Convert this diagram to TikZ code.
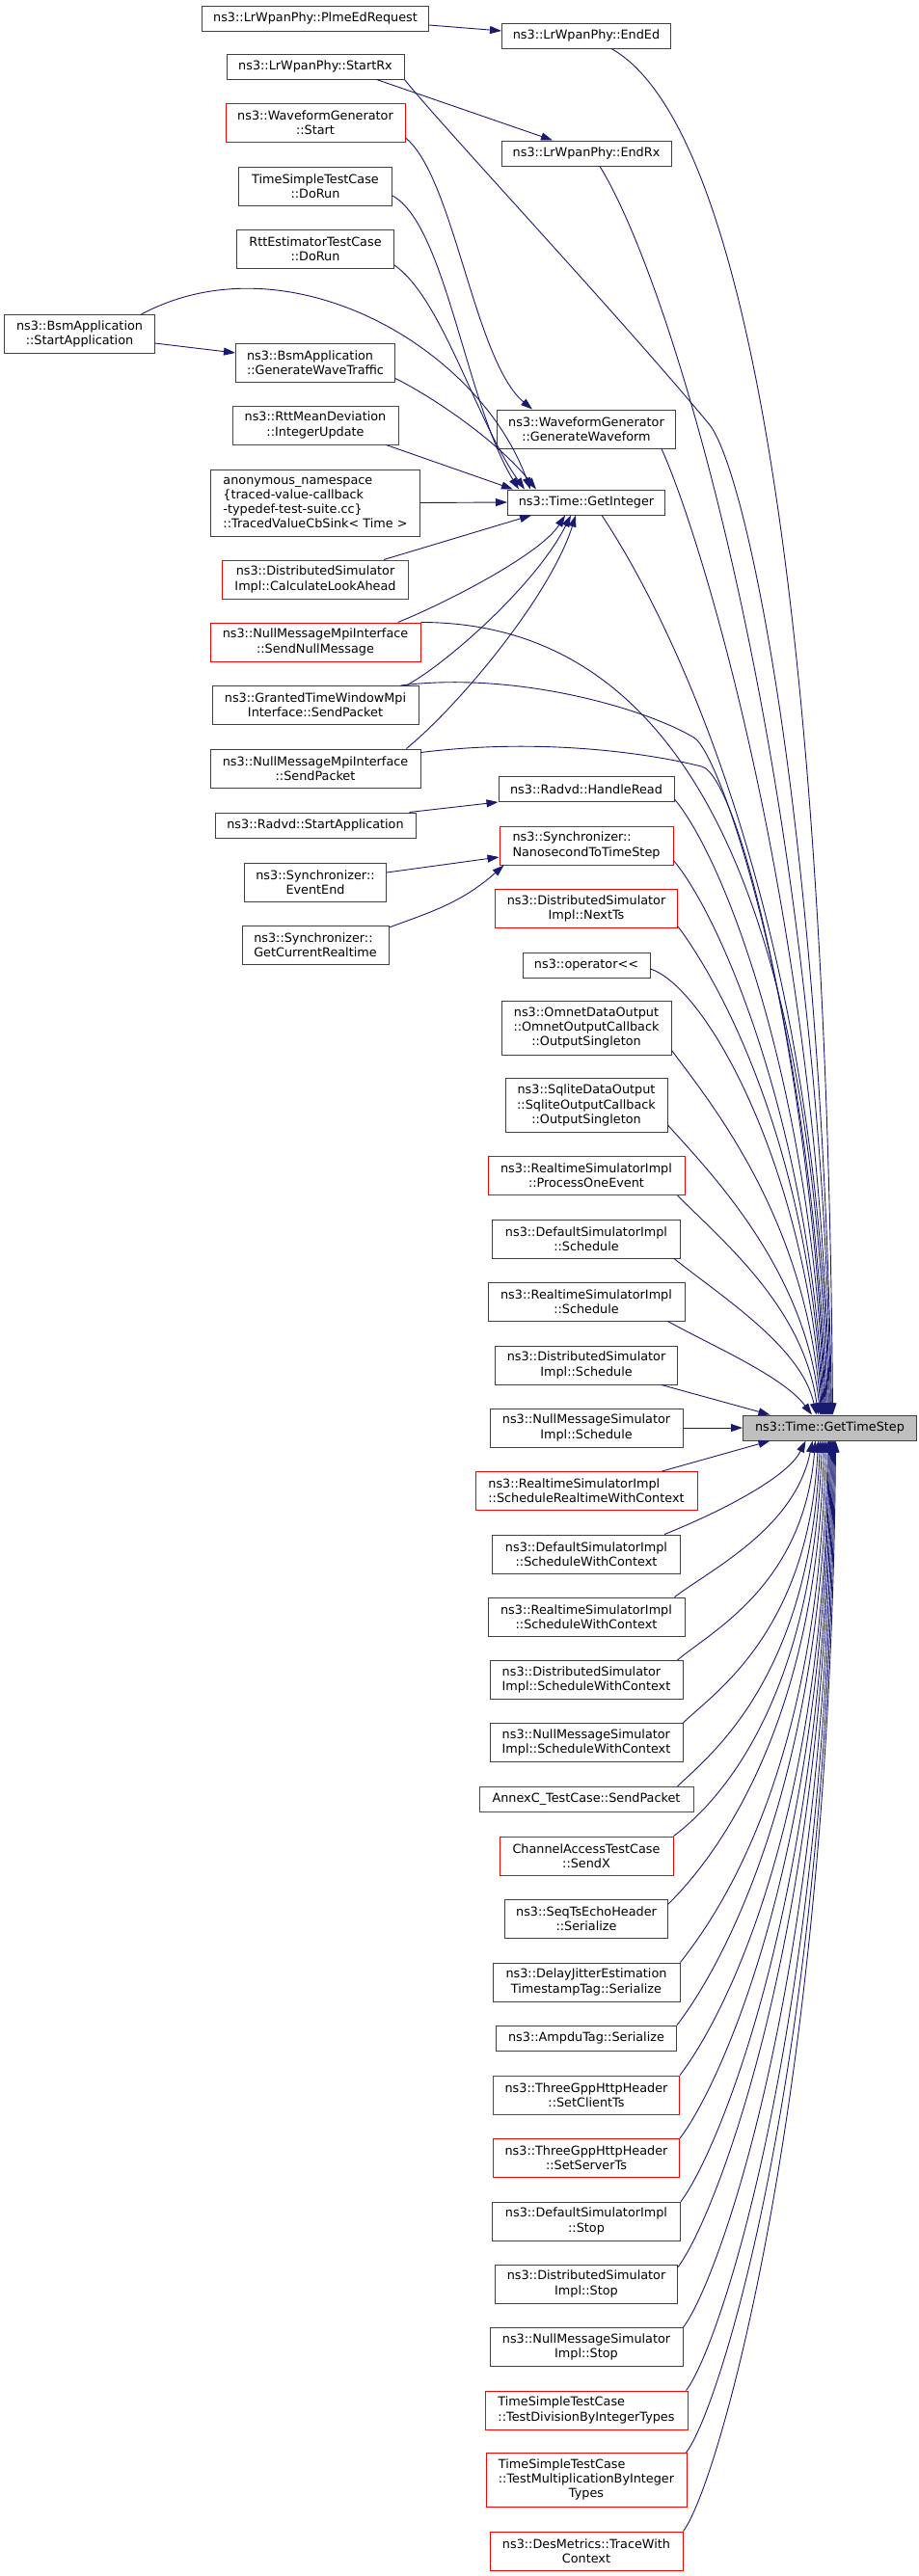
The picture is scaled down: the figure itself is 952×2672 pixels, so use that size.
\documentclass[tikz,border=0pt]{standalone}
\usepackage{fontspec}
\setmainfont{DejaVu Sans}
\usepackage{tikz}
\usetikzlibrary{arrows.meta}

\definecolor{edgeblue}{HTML}{191970}
\definecolor{boxgray}{HTML}{404040}
\definecolor{rootfill}{HTML}{BFBFBF}
\newcommand\fnfont{\fontsize{12.8bp}{15.3bp}\selectfont}

\tikzset{
	fn/.style={draw=boxgray, line width=1bp, fill=white, inner sep=0pt, align=center, font=\fnfont, minimum height=26bp},
	cut/.style={fn, draw=red},
	root/.style={fn, fill=rootfill},
	wd/.style={minimum width=#1bp},
	dbl/.style={minimum height=40bp},
	tri/.style={minimum height=56bp},
	quad/.style={minimum height=69bp},
	call/.style={draw=edgeblue, line width=0.9bp, ->},
}

\begin{document}
\begin{tikzpicture}[x=1bp, y=-1bp, >={Triangle[length=12bp,width=8bp]}]
	\def\lx{327}
	\def\cx{608}
	\useasboundingbox (0,0) rectangle (952,2672);

	% callers on the left
	\node[fn, wd=235] (plme) at (\lx,19) {ns3::LrWpanPhy::PlmeEdRequest};
	\node[fn, wd=184] (startrx) at (\lx,69) {ns3::LrWpanPhy::StartRx};
	\node[cut, dbl, wd=186] (wgstart) at (\lx,127.5) {ns3::WaveformGenerator\\::Start};
	\node[fn, dbl, wd=159] (tsdorun) at (\lx,193) {TimeSimpleTestCase\\::DoRun};
	\node[fn, dbl, wd=163] (rttdorun) at (\lx,258) {RttEstimatorTestCase\\::DoRun};
	\node[fn, dbl, wd=155] (bsmstart) at (82.5,346.5) {ns3::BsmApplication\\::StartApplication};
	\node[fn, dbl, wd=165, align=left] (bsmgen) at (\lx,376) {ns3::BsmApplication\\::GenerateWaveTraffic};
	\node[cut, dbl, wd=172] (rttmean) at (\lx,441) {ns3::RttMeanDeviation\\::IntegerUpdate};
	\node[fn, quad, wd=217, align=left] (anon) at (\lx,521.5) {anonymous\_namespace\\\{traced-value-callback\\-typedef-test-suite.cc\}\\::TracedValueCbSink< Time >};
	\node[cut, dbl, wd=193] (calcla) at (\lx,601) {ns3::DistributedSimulator\\Impl::CalculateLookAhead};
	\node[cut, dbl, wd=218] (sendnull) at (\lx,666) {ns3::NullMessageMpiInterface\\::SendNullMessage};
	\node[fn, dbl, wd=214] (grantsend) at (\lx,731.5) {ns3::GrantedTimeWindowMpi\\Interface::SendPacket};
	\node[fn, dbl, wd=218] (nullsend) at (\lx,797) {ns3::NullMessageMpiInterface\\::SendPacket};
	\node[fn, wd=208] (radvdstart) at (\lx,856) {ns3::Radvd::StartApplication};
	\node[fn, dbl, wd=147] (eventend) at (\lx,915) {ns3::Synchronizer::\\EventEnd};
	\node[fn, dbl, wd=152, align=left] (getrt) at (\lx,980) {ns3::Synchronizer::\\GetCurrentRealtime};

	% direct callers of GetTimeStep
	\node[fn, wd=175] (ended) at (\cx,37) {ns3::LrWpanPhy::EndEd};
	\node[fn, wd=176] (endrx) at (\cx,159) {ns3::LrWpanPhy::EndRx};
	\node[fn, dbl, wd=185] (wggen) at (\cx,445) {ns3::WaveformGenerator\\::GenerateWaveform};
	\node[fn, wd=163] (getint) at (\cx,521) {ns3::Time::GetInteger};
	\node[fn, wd=182] (handleread) at (\cx,818.5) {ns3::Radvd::HandleRead};
	\node[cut, dbl, wd=180, align=left] (nano) at (\cx,877) {ns3::Synchronizer::\\NanosecondToTimeStep};
	\node[cut, dbl, wd=189] (nextts) at (\cx,942.5) {ns3::DistributedSimulator\\Impl::NextTs};
	\node[fn, wd=132] (oplt) at (\cx,1001) {ns3::operator<\kern0pt<};
	\node[fn, tri, wd=176] (omnet) at (\cx,1066) {ns3::OmnetDataOutput\\::OmnetOutputCallback\\::OutputSingleton};
	\node[fn, tri, wd=168] (sqlite) at (\cx,1146.5) {ns3::SqliteDataOutput\\::SqliteOutputCallback\\::OutputSingleton};
	\node[cut, dbl, wd=204] (procone) at (\cx,1219.5) {ns3::RealtimeSimulatorImpl\\::ProcessOneEvent};
	\node[fn, dbl, wd=195] (defsched) at (\cx,1285) {ns3::DefaultSimulatorImpl\\::Schedule};
	\node[fn, dbl, wd=204] (rtsched) at (\cx,1350) {ns3::RealtimeSimulatorImpl\\::Schedule};
	\node[fn, dbl, wd=189] (dssched) at (\cx,1416) {ns3::DistributedSimulator\\Impl::Schedule};
	\node[fn, dbl, wd=200] (nmsched) at (\cx,1481) {ns3::NullMessageSimulator\\Impl::Schedule};
	\node[root, wd=180] (gts) at (860.5,1481) {ns3::Time::GetTimeStep};
	\node[cut, dbl, wd=230, align=left] (rtschedrt) at (\cx,1546.5) {ns3::RealtimeSimulatorImpl\\::ScheduleRealtimeWithContext};
	\node[fn, dbl, wd=195] (defswc) at (\cx,1612) {ns3::DefaultSimulatorImpl\\::ScheduleWithContext};
	\node[fn, dbl, wd=204] (rtswc) at (\cx,1677) {ns3::RealtimeSimulatorImpl\\::ScheduleWithContext};
	\node[fn, dbl, wd=200, align=left] (dsswc) at (\cx,1742.5) {ns3::DistributedSimulator\\Impl::ScheduleWithContext};
	\node[fn, dbl, wd=200, align=left] (nmswc) at (\cx,1807.5) {ns3::NullMessageSimulator\\Impl::ScheduleWithContext};
	\node[cut, wd=222] (annexc) at (\cx,1866.5) {AnnexC\_TestCase::SendPacket};
	\node[cut, dbl, wd=180] (sendx) at (\cx,1925) {ChannelAccessTestCase\\::SendX};
	\node[fn, dbl, wd=169] (seqts) at (\cx,1990.5) {ns3::SeqTsEchoHeader\\::Serialize};
	\node[fn, dbl, wd=194] (dj) at (\cx,2056) {ns3::DelayJitterEstimation\\TimestampTag::Serialize};
	\node[fn, wd=187] (ampdu) at (\cx,2114) {ns3::AmpduTag::Serialize};
	\node[cut, dbl, wd=193] (setclient) at (\cx,2173) {ns3::ThreeGppHttpHeader\\::SetClientTs};
	\node[cut, dbl, wd=193] (setserver) at (\cx,2238.5) {ns3::ThreeGppHttpHeader\\::SetServerTs};
	\node[fn, dbl, wd=195] (defstop) at (\cx,2304) {ns3::DefaultSimulatorImpl\\::Stop};
	\node[fn, dbl, wd=189] (dsstop) at (\cx,2369) {ns3::DistributedSimulator\\Impl::Stop};
	\node[fn, dbl, wd=200] (nmstop) at (\cx,2434.5) {ns3::NullMessageSimulator\\Impl::Stop};
	\node[cut, dbl, wd=210, align=left] (tdiv) at (\cx,2500) {TimeSimpleTestCase\\::TestDivisionByIntegerTypes};
	\node[cut, tri, wd=208] (tmul) at (\cx,2572.5) {\begin{tabular}{@{}l@{}}TimeSimpleTestCase\\::TestMultiplicationByInteger\\\multicolumn{1}{@{}c@{}}{Types}\end{tabular}};
	\node[cut, dbl, wd=200] (trace) at (\cx,2646) {ns3::DesMetrics::TraceWith\\Context};

	% calls between the callers
	\draw[call] ([yshift=-7bp]plme.east) -- ([yshift=5bp]ended.west);
	\draw[call] ([xshift=-29bp]startrx.south east) -- ([xshift=-35bp]endrx.north);
	\draw[call] ([yshift=5bp]wgstart.south east) .. controls +(50,40) and +(-60,-50) .. ([xshift=-56bp]wggen.north);
	\draw[call] ([yshift=-9.5bp]bsmstart.east) -- ([yshift=10bp]bsmgen.west);
	\draw[call] ([xshift=-7bp]radvdstart.north east) -- (handleread.south west);
	\draw[call] ([yshift=10bp]eventend.east) -- ([yshift=-12bp]nano.west);
	\draw[call] ([yshift=18bp]getrt.east) .. controls +(40,-15) and +(-45,40) .. ([xshift=5bp]nano.south west);

	% calls of GetInteger
	\draw[call] ([yshift=-10bp]tsdorun.east) .. controls +(55,30) and +(-55,-90) .. ([xshift=12bp]getint.north west);
	\draw[call] ([yshift=-17bp]rttdorun.east) .. controls +(50,35) and +(-50,-70) .. ([xshift=18bp]getint.north west);
	\draw[call] ([xshift=-14bp]bsmstart.north east) .. controls +(150,-80) and +(-55,-150) .. ([xshift=24bp]getint.north west);
	\draw[call] ([yshift=4bp]bsmgen.south east) .. controls +(40,20) and +(-40,-50) .. ([xshift=30bp]getint.north west);
	\draw[call] ([xshift=-13bp]rttmean.south east) -- ([xshift=6bp]getint.north west);
	\draw[call] (anon.east) -- (getint.west);
	\draw[call] ([xshift=-26bp]calcla.north east) -- ([xshift=25bp]getint.south west);
	\draw[call] ([xshift=-24bp]sendnull.north east) .. controls +(50,-20) and +(-25,40) .. ([xshift=-22bp]getint.south);
	\draw[call] ([xshift=-13bp]grantsend.north east) .. controls +(45,-25) and +(-35,70) .. ([xshift=-16bp]getint.south);
	\draw[call] ([xshift=-15bp]nullsend.north east) .. controls +(60,-50) and +(-25,80) .. ([xshift=-11bp]getint.south);

	% calls of GetTimeStep from above
	\draw[call] ([xshift=26bp]ended.south) .. controls +(160,90) and +(-5,-700) .. ([xshift=3bp]gts.north);
	\draw[call] (startrx.south east) .. controls +(40,50) and +(-100,-120) .. ([xshift=34bp,yshift=-15bp]wggen.north east) .. controls +(40,48) and +(-10,-600) .. ([xshift=2bp]gts.north);
	\draw[call] ([xshift=14bp]endrx.south) .. controls +(80,130) and +(-10,-650) .. ([xshift=1bp]gts.north);
	\draw[call] ([xshift=-15bp]wggen.south east) .. controls +(45,100) and +(-10,-500) .. (gts.north);
	\draw[call] ([xshift=16bp]getint.south) .. controls +(80,120) and +(-10,-500) .. ([xshift=-1bp]gts.north);
	\draw[call] (sendnull.north east) .. controls +(290,0) and +(-15,-500) .. ([xshift=-2bp]gts.north);
	\draw[call] ([xshift=-19bp]grantsend.north east) .. controls +(120,-15) and +(-50,-30) .. ([xshift=20bp,yshift=40bp]handleread.north east) .. controls +(30,18) and +(-15,-400) .. ([xshift=-3bp]gts.north);
	\draw[call] ([yshift=-4bp]nullsend.north east) .. controls +(120,-15) and +(-60,-15) .. ([xshift=28bp,yshift=10bp]handleread.north east) .. controls +(40,10) and +(-15,-350) .. ([xshift=-4bp]gts.north);
	\draw[call] ([yshift=3bp]handleread.south east) .. controls +(50,60) and +(-15,-350) .. ([xshift=-5bp]gts.north);
	\draw[call] ([yshift=5bp]nano.south east) .. controls +(50,60) and +(-15,-300) .. ([xshift=-6bp]gts.north);
	\draw[call] ([yshift=2bp]nextts.south east) .. controls +(45,60) and +(-15,-280) .. ([xshift=-7bp]gts.north);
	\draw[call] ([yshift=-4bp]oplt.east) .. controls +(60,20) and +(-15,-250) .. ([xshift=-8bp]gts.north);
	\draw[call] ([yshift=5bp]omnet.south east) .. controls +(45,60) and +(-15,-200) .. ([xshift=-9bp]gts.north);
	\draw[call] ([yshift=8bp]sqlite.south east) .. controls +(45,50) and +(-15,-150) .. ([xshift=-10bp]gts.north);
	\draw[call] ([xshift=-8bp]procone.south east) .. controls +(50,50) and +(-15,-110) .. ([xshift=-12bp]gts.north);
	\draw[call] ([xshift=-7bp]defsched.south east) .. controls +(50,40) and +(-15,-70) .. ([xshift=-14bp]gts.north);
	\draw[call] ([xshift=-18bp]rtsched.south east) .. controls +(45,25) and +(-30,-40) .. ([xshift=-18.5bp]gts.north);
	\draw[call] ([xshift=-17bp]dssched.south east) -- ([xshift=-62bp]gts.north);
	\draw[call] (nmsched.east) -- (gts.west);

	% calls of GetTimeStep from below
	\draw[call] ([xshift=-37bp]rtschedrt.north east) -- ([xshift=-62bp]gts.south);
	\draw[call] ([xshift=-17bp]defswc.north east) .. controls +(50,-20) and +(-20,40) .. ([xshift=-25bp]gts.south);
	\draw[call] ([xshift=-11bp]rtswc.north east) .. controls +(40,-30) and +(-18,90) .. ([xshift=-18bp]gts.south);
	\draw[call] ([xshift=-6bp]dsswc.north east) .. controls +(35,-30) and +(-12,150) .. ([xshift=-15bp]gts.south);
	\draw[call] (nmswc.north east) .. controls +(30,-30) and +(-10,200) .. ([xshift=-12bp]gts.south);
	\draw[call] ([xshift=-17bp]annexc.north east) .. controls +(30,-30) and +(-10,250) .. ([xshift=-10bp]gts.south);
	\draw[call] (sendx.north east) .. controls +(40,-30) and +(-10,280) .. ([xshift=-8bp]gts.south);
	\draw[call] ([yshift=-5bp]seqts.north east) .. controls +(30,-30) and +(-8,320) .. ([xshift=-6bp]gts.south);
	\draw[call] (dj.north east) .. controls +(35,-45) and +(-8,350) .. ([xshift=-4bp]gts.south);
	\draw[call] (ampdu.north east) .. controls +(35,-45) and +(-8,380) .. ([xshift=-2bp]gts.south);
	\draw[call] (setclient.north east) .. controls +(35,-45) and +(-6,420) .. ([xshift=-1bp]gts.south);
	\draw[call] (setserver.north east) .. controls +(35,-45) and +(-6,450) .. (gts.south);
	\draw[call] (defstop.north east) .. controls +(35,-45) and +(-5,480) .. ([xshift=1bp]gts.south);
	\draw[call] ([yshift=-3bp]dsstop.north east) .. controls +(35,-45) and +(-5,520) .. ([xshift=2bp]gts.south);
	\draw[call] (nmstop.north east) .. controls +(35,-45) and +(-5,560) .. ([xshift=3bp]gts.south);
	\draw[call] ([xshift=-2bp]tdiv.north east) .. controls +(35,-45) and +(-5,600) .. ([xshift=4bp]gts.south);
	\draw[call] ([xshift=-1bp]tmul.north east) .. controls +(35,-45) and +(-5,640) .. ([xshift=5bp]gts.south);
	\draw[call] (trace.north east) .. controls +(35,-45) and +(-5,680) .. ([xshift=6bp]gts.south);
\end{tikzpicture}
\end{document}
